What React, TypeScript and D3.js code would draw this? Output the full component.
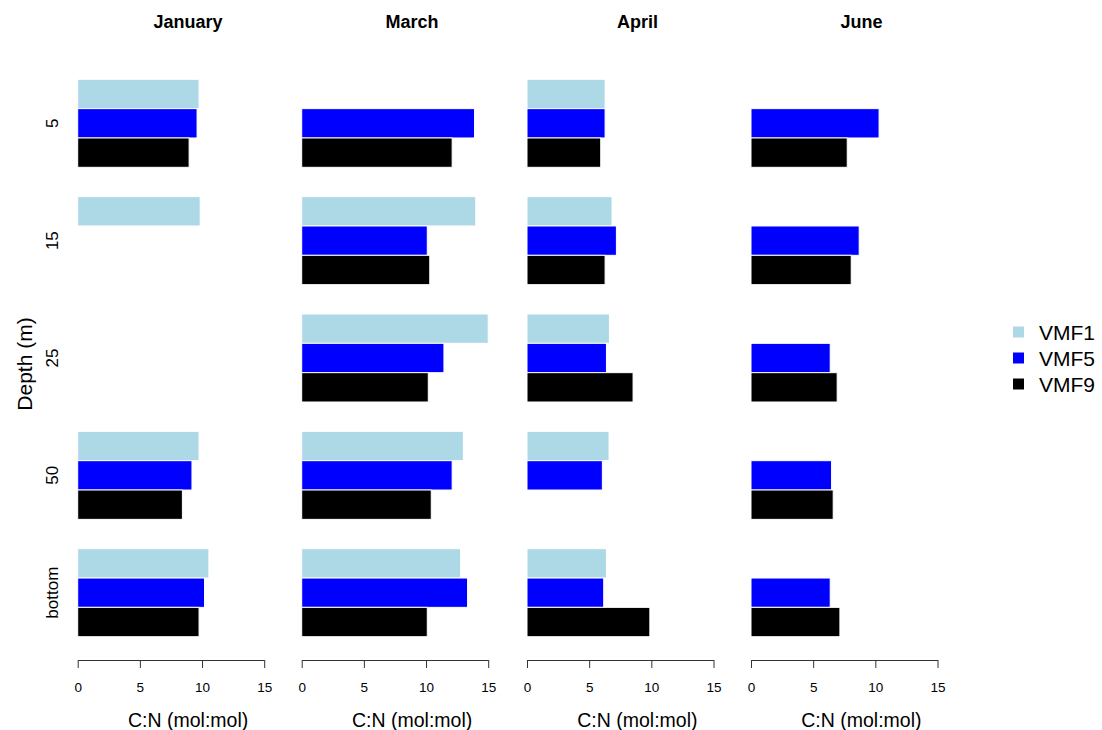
import { useEffect, useRef } from "react";
import * as d3 from "d3";

const depths = ["5", "15", "25", "50", "bottom"];
const months = ["January", "March", "April", "June"];
const seriesNames = ["VMF1", "VMF5", "VMF9"];
const seriesColors = ["#ADD8E6", "#0000FF", "#000000"];
const xTicks = [0, 5, 10, 15];

// C:N ratios per depth (null = no sample)
const januaryVMF1 = [9.76, 9.85, null, 9.76, 10.55];
const januaryVMF5 = [9.6, null, null, 9.19, 10.2];
const januaryVMF9 = [8.96, null, null, 8.42, 9.76];
const marchVMF1 = [null, 14.0, 15.0, 13.0, 12.78];
const marchVMF5 = [13.9, 10.1, 11.44, 12.1, 13.34];
const marchVMF9 = [12.1, 10.3, 10.18, 10.42, 10.1];
const aprilVMF1 = [6.28, 6.84, 6.63, 6.6, 6.39];
const aprilVMF5 = [6.28, 7.19, 6.39, 6.06, 6.17];
const aprilVMF9 = [5.93, 6.28, 8.53, null, 9.88];
const juneVMF1 = [null, null, null, null, null];
const juneVMF5 = [10.3, 8.7, 6.37, 6.48, 6.37];
const juneVMF9 = [7.74, 8.06, 6.93, 6.61, 7.15];

const monthData = [
  [januaryVMF1, januaryVMF5, januaryVMF9],
  [marchVMF1, marchVMF5, marchVMF9],
  [aprilVMF1, aprilVMF5, aprilVMF9],
  [juneVMF1, juneVMF5, juneVMF9],
];

export default function App() {
  const svgRef = useRef(null);

  useEffect(() => {
    document.body.style.margin = "0";
    const width = 1102;
    const height = 730;
    const font = "'Liberation Sans', Arial, sans-serif";

    const svg = d3
      .select(svgRef.current)
      .attr("width", width)
      .attr("height", height)
      .style("display", "block")
      .style("font-family", font);
    svg.selectAll("*").remove();

    const panelLeft = [77.7, 301.7, 527, 751];
    const panelWidth = 186.5;
    const axisY = 660;
    // plot region centre (R pads the x range), used for titles
    const centreValue = 8.88;

    const y = d3
      .scaleBand()
      .domain(depths)
      .range([79.3, 636.7])
      .paddingInner(0.25)
      .paddingOuter(0);
    const ySeries = d3
      .scaleBand()
      .domain(seriesNames)
      .range([0, y.bandwidth()]);

    // depth labels
    svg
      .append("g")
      .selectAll("text")
      .data(depths)
      .enter()
      .append("text")
      .attr(
        "transform",
        (d) => `translate(58, ${y(d) + y.bandwidth() / 2}) rotate(-90)`
      )
      .attr("text-anchor", "middle")
      .attr("font-size", "17px")
      .attr("fill", "#000")
      .text((d) => d);

    svg
      .append("text")
      .attr("transform", `translate(32, 364) rotate(-90)`)
      .attr("text-anchor", "middle")
      .attr("font-size", "21px")
      .attr("fill", "#000")
      .text("Depth (m)");

    months.forEach((month, mi) => {
      const x = d3
        .scaleLinear()
        .domain([0, 15])
        .range([panelLeft[mi], panelLeft[mi] + panelWidth]);
      const g = svg.append("g");

      g.append("text")
        .attr("x", x(centreValue))
        .attr("y", 28)
        .attr("text-anchor", "middle")
        .attr("font-size", "18px")
        .attr("font-weight", "bold")
        .attr("fill", "#000")
        .text(month);

      const bars = [];
      monthData[mi].forEach((vals, si) => {
        vals.forEach((v, di) => {
          if (v != null) bars.push({ v, s: seriesNames[si], c: seriesColors[si], d: depths[di] });
        });
      });

      g.selectAll("rect")
        .data(bars)
        .enter()
        .append("rect")
        .attr("x", x(0))
        .attr("y", (d) => y(d.d) + ySeries(d.s))
        .attr("width", (d) => x(d.v) - x(0))
        .attr("height", ySeries.bandwidth())
        .attr("fill", (d) => d.c)
        .attr("stroke", "#fff")
        .attr("stroke-width", 1);

      const axis = d3
        .axisBottom(x)
        .tickValues(xTicks)
        .tickSize(8)
        .tickSizeOuter(0)
        .tickPadding(14);
      const ax = g
        .append("g")
        .attr("transform", `translate(0, ${axisY})`)
        .call(axis);
      ax.select(".domain").attr("stroke", "#333");
      ax.selectAll(".tick line").attr("stroke", "#333");
      ax.selectAll(".tick text")
        .attr("font-size", "13.5px")
        .attr("font-family", font)
        .attr("fill", "#000");

      g.append("text")
        .attr("x", x(centreValue))
        .attr("y", 727)
        .attr("text-anchor", "middle")
        .attr("font-size", "19.5px")
        .attr("fill", "#000")
        .text("C:N (mol:mol)");
    });

    // legend
    const legend = svg.append("g").attr("transform", "translate(1013, 332)");
    const ly = d3.scalePoint().domain(seriesNames).range([0, 52]);
    legend
      .selectAll("rect")
      .data(seriesNames)
      .enter()
      .append("rect")
      .attr("x", 0)
      .attr("y", (d) => ly(d) - 5.5)
      .attr("width", 11)
      .attr("height", 11)
      .attr("fill", (d, i) => seriesColors[i]);
    legend
      .selectAll("text")
      .data(seriesNames)
      .enter()
      .append("text")
      .attr("x", 26)
      .attr("y", (d) => ly(d))
      .attr("dy", "0.36em")
      .attr("font-size", "21px")
      .attr("fill", "#000")
      .text((d) => d);
  }, []);

  return <svg ref={svgRef}></svg>;
}
